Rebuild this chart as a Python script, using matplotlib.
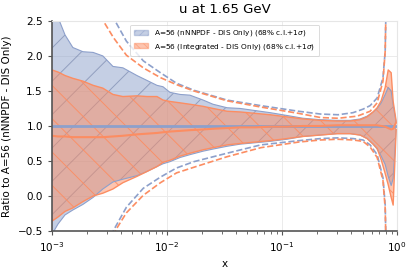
import matplotlib
matplotlib.use("Agg")
import matplotlib.pyplot as plt
import numpy as np

# x grid shared by the 68% c.l. bands
x_band = [0.00100, 0.00113, 0.00130, 0.00152, 0.00186, 0.00228, 0.00277, 0.00339,
          0.00414, 0.00548, 0.00670, 0.00818, 0.00923, 0.0106, 0.0130, 0.0158,
          0.0206, 0.0251, 0.0333, 0.0432, 0.0582, 0.0787, 0.110, 0.152, 0.214,
          0.301, 0.390, 0.477, 0.548, 0.618, 0.670, 0.726, 0.787, 0.836, 0.887,
          0.923, 0.980]

# nNNPDF (blue) 68% band
blue_hi = [2.65, 2.55, 2.30, 2.12, 2.06, 2.05, 2.00, 1.85, 1.83, 1.72, 1.65, 1.58,
           1.56, 1.48, 1.45, 1.44, 1.37, 1.31, 1.26, 1.25, 1.22, 1.19, 1.15, 1.11,
           1.09, 1.08, 1.08, 1.10, 1.14, 1.20, 1.25, 1.33, 1.45, 1.55, 1.50, 1.30, 1.05]
blue_lo = [-0.55, -0.40, -0.27, -0.20, -0.12, -0.02, 0.10, 0.20, 0.24, 0.29, 0.35, 0.42,
           0.46, 0.49, 0.55, 0.59, 0.64, 0.67, 0.71, 0.74, 0.76, 0.78, 0.81, 0.85,
           0.87, 0.89, 0.89, 0.87, 0.82, 0.74, 0.67, 0.57, 0.45, 0.28, 0.15, 0.25, 0.95]

# Integrated (orange) 68% band and central value
orange_hi = [1.80, 1.77, 1.72, 1.68, 1.64, 1.58, 1.54, 1.45, 1.42, 1.43, 1.42, 1.42,
             1.37, 1.35, 1.33, 1.31, 1.28, 1.25, 1.21, 1.20, 1.18, 1.16, 1.13, 1.10,
             1.08, 1.07, 1.07, 1.09, 1.13, 1.20, 1.26, 1.36, 1.55, 1.80, 1.76, 1.35, 1.07]
orange_lo = [-0.36, -0.30, -0.22, -0.17, -0.08, 0.00, 0.04, 0.10, 0.19, 0.28, 0.35, 0.42,
             0.48, 0.51, 0.57, 0.61, 0.66, 0.69, 0.73, 0.75, 0.77, 0.79, 0.82, 0.85,
             0.87, 0.89, 0.89, 0.87, 0.82, 0.74, 0.68, 0.52, 0.32, 0.16, -0.02, -0.13, 0.95]
orange_cv = [0.86, 0.85, 0.85, 0.84, 0.84, 0.84, 0.84, 0.85, 0.86, 0.88, 0.89, 0.90,
             0.91, 0.92, 0.93, 0.94, 0.95, 0.96, 0.97, 0.98, 0.98, 0.99, 0.99, 1.00,
             1.00, 1.01, 1.01, 1.01, 1.01, 1.01, 1.01, 1.00, 0.99, 0.97, 0.95, 0.96, 1.05]

# blue central value is the reference itself
x_blue_cv = [0.00100, 0.980]
blue_cv = [1.0, 1.0]

# +1 sigma dashed curves
x_blue_sig_hi = [0.00310, 0.00343, 0.00444, 0.00622, 0.00877, 0.0121, 0.0171, 0.0331,
                 0.0654, 0.139, 0.216, 0.307, 0.414, 0.505, 0.582, 0.670, 0.753, 0.787, 0.800]
blue_sig_hi = [2.70, 2.54, 2.21, 1.93, 1.76, 1.61, 1.51, 1.37,
               1.29, 1.21, 1.17, 1.16, 1.19, 1.24, 1.29, 1.40, 1.69, 2.07, 2.70]
x_blue_sig_lo = [0.00330, 0.00343, 0.00444, 0.00622, 0.00877, 0.0121, 0.0171, 0.0331,
                 0.0654, 0.139, 0.216, 0.307, 0.414, 0.505, 0.582, 0.670, 0.753, 0.787, 0.800]
blue_sig_lo = [-0.70, -0.49, -0.16, 0.11, 0.27, 0.40, 0.49, 0.61,
               0.73, 0.79, 0.82, 0.83, 0.82, 0.80, 0.73, 0.59, 0.26, -0.13, -0.70]
x_orange_sig_hi = [0.00255, 0.00270, 0.00343, 0.00444, 0.00622, 0.00877, 0.0121, 0.0171,
                   0.0331, 0.0654, 0.139, 0.216, 0.307, 0.450, 0.582, 0.670, 0.753, 0.787, 0.800]
orange_sig_hi = [2.70, 2.54, 2.26, 2.01, 1.83, 1.69, 1.59, 1.50,
                 1.36, 1.27, 1.18, 1.12, 1.11, 1.14, 1.21, 1.33, 1.64, 2.07, 2.70]
x_orange_sig_lo = [0.00343, 0.00357, 0.00444, 0.00622, 0.00877, 0.0121, 0.0171, 0.0331,
                   0.0654, 0.139, 0.216, 0.307, 0.414, 0.505, 0.582, 0.670, 0.753, 0.787, 0.800]
orange_sig_lo = [-0.70, -0.49, -0.24, 0.01, 0.19, 0.33, 0.41, 0.56,
                 0.69, 0.77, 0.80, 0.81, 0.80, 0.78, 0.70, 0.55, 0.22, -0.18, -0.70]

labels = ["A=56 (nNNPDF - DIS Only) (68% c.l.+1$\\sigma$)",
          "A=56 (Integrated - DIS Only) (68% c.l.+1$\\sigma$)"]

blue = "#8da0cb"
orange = "#fc8d62"

plt.rcParams["hatch.linewidth"] = 0.7

fig = plt.figure(figsize=(4.12, 2.68), dpi=100)
ax = fig.add_axes([0.126, 0.138, 0.838, 0.784])

# filled bands
ax.fill_between(x_band, blue_lo, blue_hi, facecolor=blue, alpha=0.5, linewidth=0)
ax.fill_between(x_band, blue_lo, blue_hi, facecolor="none", edgecolor="#6f7fa6",
                hatch="/", linewidth=0, alpha=0.6)
ax.plot(x_band, blue_hi, color=blue, lw=0.8)
ax.plot(x_band, blue_lo, color=blue, lw=0.8)

ax.fill_between(x_band, orange_lo, orange_hi, facecolor=orange, alpha=0.5, linewidth=0)
ax.fill_between(x_band, orange_lo, orange_hi, facecolor="none", edgecolor=orange,
                hatch="\\", linewidth=0, alpha=0.9)
ax.plot(x_band, orange_hi, color=orange, lw=1.0)
ax.plot(x_band, orange_lo, color=orange, lw=1.0)

ax.plot(x_blue_cv, blue_cv, color=blue, lw=2.0)
ax.plot(x_band, orange_cv, color=orange, lw=1.5)

ax.plot(x_blue_sig_hi, blue_sig_hi, color=blue, ls="--", lw=1.2)
ax.plot(x_blue_sig_lo, blue_sig_lo, color=blue, ls="--", lw=1.2)
ax.plot(x_orange_sig_hi, orange_sig_hi, color=orange, ls="--", lw=1.2)
ax.plot(x_orange_sig_lo, orange_sig_lo, color=orange, ls="--", lw=1.2)

ax.set_xscale("log")
ax.set_xlim(1e-3, 1.0)
ax.set_ylim(-0.5, 2.5)
ax.set_yticks([-0.5, 0.0, 0.5, 1.0, 1.5, 2.0, 2.5])
ax.grid(True, color="#ebebeb", lw=0.7)
ax.set_axisbelow(True)

for s in ["top", "right"]:
    ax.spines[s].set_color("#e6e6e6")
for s in ["left", "bottom"]:
    ax.spines[s].set_color("#555555")
    ax.spines[s].set_linewidth(1.2)

ax.tick_params(labelsize=7.5, length=3, color="#555555")
ax.tick_params(which="minor", length=2, color="#555555")

ax.set_xlabel("x", fontsize=7.5)
ax.set_ylabel("Ratio to A=56 (nNNPDF - DIS Only)", fontsize=7.5)
ax.set_title("u at 1.65 GeV", fontsize=9.5, pad=6)

hb = plt.Rectangle((0, 0), 1, 1, facecolor=blue, edgecolor=blue, alpha=0.5,
                   hatch="////")
ho = plt.Rectangle((0, 0), 1, 1, facecolor=orange, edgecolor=orange, alpha=0.5,
                   hatch="\\\\\\\\")
leg = ax.legend([hb, ho], labels, loc="upper center", fontsize=5.3,
                frameon=True, borderpad=0.5, handlelength=2.0,
                bbox_to_anchor=(0.5, 1.0))
leg.get_frame().set_edgecolor("#cccccc")
leg.get_frame().set_linewidth(0.6)

fig.savefig("out.png", dpi=100)
